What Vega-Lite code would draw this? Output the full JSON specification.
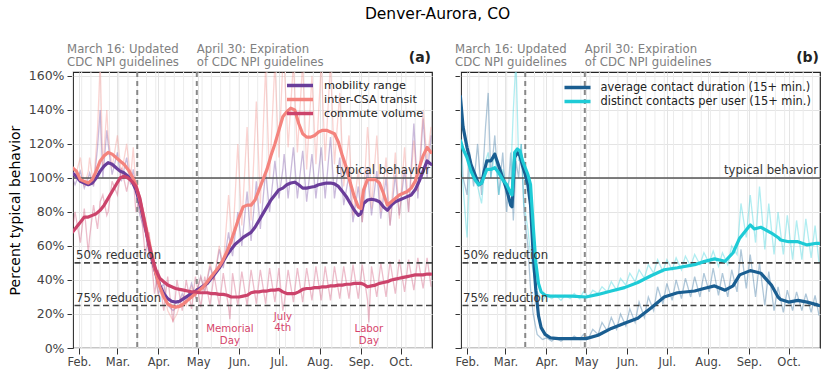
{
"$schema": "https://vega.github.io/schema/vega-lite/v6.json",
"padding": {"left": 7, "top": 7, "right": 0, "bottom": 0},
"title": {"text": "Denver-Aurora, CO", "fontSize": 15.5, "fontWeight": "normal", "color": "#000", "font": "DejaVu Sans", "anchor": "middle", "offset": 21, "dx": 23},
"bounds": "flush",
"spacing": 29,
"resolve": {"scale": {"color": "independent"}, "legend": {"color": "independent"}},
"config": {
  "font": "DejaVu Sans",
  "view": {"stroke": "#222", "strokeWidth": 1.2},
  "axis": {"labelFont": "DejaVu Sans", "labelColor": "#444", "tickColor": "#333", "tickSize": 6, "tickWidth": 1, "domain": false, "gridColor": "#e4e4e4", "gridWidth": 1, "titleFont": "DejaVu Sans", "titleFontWeight": "normal", "titleColor": "#000", "labelPadding": 3, "labelOverlap": false},
  "axisY": {"tickCount": 9, "tickMinStep": 20}
},
"datasets": {
  "weeks": [{"d":"2020-01-27"},{"d":"2020-02-03"},{"d":"2020-02-10"},{"d":"2020-02-17"},{"d":"2020-02-24"},{"d":"2020-03-02"},{"d":"2020-03-09"},{"d":"2020-03-16"},{"d":"2020-03-23"},{"d":"2020-03-30"},{"d":"2020-04-06"},{"d":"2020-04-13"},{"d":"2020-04-20"},{"d":"2020-04-27"},{"d":"2020-05-04"},{"d":"2020-05-11"},{"d":"2020-05-18"},{"d":"2020-05-25"},{"d":"2020-06-01"},{"d":"2020-06-08"},{"d":"2020-06-15"},{"d":"2020-06-22"},{"d":"2020-06-29"},{"d":"2020-07-06"},{"d":"2020-07-13"},{"d":"2020-07-20"},{"d":"2020-07-27"},{"d":"2020-08-03"},{"d":"2020-08-10"},{"d":"2020-08-17"},{"d":"2020-08-24"},{"d":"2020-08-31"},{"d":"2020-09-07"},{"d":"2020-09-14"},{"d":"2020-09-21"},{"d":"2020-09-28"},{"d":"2020-10-05"},{"d":"2020-10-12"},{"d":"2020-10-19"}],
  "aS": [
    {"d":"2020-01-27","mob":103,"tra":106,"com":68},
    {"d":"2020-01-30","mob":101,"tra":104,"com":71},
    {"d":"2020-02-02","mob":98,"tra":99,"com":74},
    {"d":"2020-02-05","mob":97,"tra":98,"com":77},
    {"d":"2020-02-08","mob":96,"tra":97,"com":77},
    {"d":"2020-02-11","mob":97,"tra":99,"com":78},
    {"d":"2020-02-14","mob":100,"tra":104,"com":79},
    {"d":"2020-02-17","mob":104,"tra":110,"com":81},
    {"d":"2020-02-20","mob":107,"tra":113,"com":84},
    {"d":"2020-02-23","mob":109,"tra":115,"com":88},
    {"d":"2020-02-26","mob":108,"tra":114,"com":92},
    {"d":"2020-02-29","mob":106,"tra":112,"com":96},
    {"d":"2020-03-03","mob":104,"tra":110,"com":100},
    {"d":"2020-03-06","mob":103,"tra":108,"com":101},
    {"d":"2020-03-09","mob":101,"tra":105,"com":100},
    {"d":"2020-03-12","mob":98,"tra":101,"com":98},
    {"d":"2020-03-15","mob":93,"tra":96,"com":95},
    {"d":"2020-03-18","mob":85,"tra":87,"com":88},
    {"d":"2020-03-21","mob":75,"tra":77,"com":76},
    {"d":"2020-03-24","mob":64,"tra":66,"com":64},
    {"d":"2020-03-27","mob":53,"tra":55,"com":54},
    {"d":"2020-03-30","mob":44,"tra":44,"com":46},
    {"d":"2020-04-02","mob":37,"tra":36,"com":41},
    {"d":"2020-04-05","mob":32,"tra":30,"com":39},
    {"d":"2020-04-08","mob":29,"tra":26,"com":37},
    {"d":"2020-04-11","mob":27.5,"tra":24.5,"com":36},
    {"d":"2020-04-14","mob":27,"tra":24,"com":35},
    {"d":"2020-04-17","mob":27.5,"tra":24.5,"com":34.5},
    {"d":"2020-04-20","mob":29,"tra":26,"com":34},
    {"d":"2020-04-23","mob":30.5,"tra":28,"com":33.5},
    {"d":"2020-04-26","mob":32,"tra":30,"com":33},
    {"d":"2020-04-29","mob":33.5,"tra":32,"com":33},
    {"d":"2020-05-02","mob":35,"tra":34,"com":32.5},
    {"d":"2020-05-05","mob":36.5,"tra":36,"com":32.5},
    {"d":"2020-05-08","mob":38,"tra":39,"com":32.5},
    {"d":"2020-05-11","mob":41,"tra":42,"com":32},
    {"d":"2020-05-14","mob":44,"tra":45,"com":32},
    {"d":"2020-05-17","mob":47,"tra":48,"com":31.5},
    {"d":"2020-05-20","mob":51,"tra":52,"com":31.5},
    {"d":"2020-05-23","mob":55,"tra":57,"com":31},
    {"d":"2020-05-26","mob":58,"tra":63,"com":30},
    {"d":"2020-05-29","mob":61,"tra":70,"com":30},
    {"d":"2020-06-01","mob":63,"tra":77,"com":30},
    {"d":"2020-06-04","mob":65,"tra":83,"com":30.5},
    {"d":"2020-06-07","mob":66.5,"tra":84,"com":31},
    {"d":"2020-06-10","mob":68,"tra":84,"com":32.5},
    {"d":"2020-06-13","mob":71,"tra":87,"com":33},
    {"d":"2020-06-16","mob":75,"tra":93,"com":33},
    {"d":"2020-06-19","mob":79,"tra":99,"com":33.5},
    {"d":"2020-06-22","mob":83,"tra":105,"com":33.5},
    {"d":"2020-06-25","mob":87,"tra":113,"com":34},
    {"d":"2020-06-28","mob":90,"tra":120,"com":34},
    {"d":"2020-07-01","mob":93,"tra":128,"com":34.5},
    {"d":"2020-07-04","mob":94,"tra":136,"com":33},
    {"d":"2020-07-07","mob":96,"tra":139,"com":32},
    {"d":"2020-07-10","mob":97,"tra":141,"com":32},
    {"d":"2020-07-13","mob":97.5,"tra":140,"com":32},
    {"d":"2020-07-16","mob":96,"tra":132,"com":33},
    {"d":"2020-07-19","mob":94,"tra":126,"com":34.5},
    {"d":"2020-07-22","mob":94,"tra":124,"com":35},
    {"d":"2020-07-25","mob":94.5,"tra":124,"com":35},
    {"d":"2020-07-28","mob":95,"tra":125,"com":35.5},
    {"d":"2020-07-31","mob":96,"tra":127,"com":35.5},
    {"d":"2020-08-03","mob":96.5,"tra":128,"com":36},
    {"d":"2020-08-06","mob":97,"tra":128,"com":36},
    {"d":"2020-08-09","mob":97,"tra":127,"com":36.5},
    {"d":"2020-08-12","mob":96.5,"tra":126,"com":36.5},
    {"d":"2020-08-15","mob":95,"tra":121,"com":37},
    {"d":"2020-08-18","mob":92,"tra":113,"com":37},
    {"d":"2020-08-21","mob":89,"tra":106,"com":37.5},
    {"d":"2020-08-24","mob":85,"tra":97,"com":37.5},
    {"d":"2020-08-27","mob":81,"tra":89,"com":38},
    {"d":"2020-08-30","mob":78,"tra":83,"com":38},
    {"d":"2020-09-01","mob":79,"tra":82,"com":38},
    {"d":"2020-09-03","mob":85,"tra":93,"com":37.5},
    {"d":"2020-09-06","mob":87,"tra":99,"com":36},
    {"d":"2020-09-09","mob":87.5,"tra":99,"com":36.5},
    {"d":"2020-09-12","mob":87,"tra":99,"com":37},
    {"d":"2020-09-15","mob":86,"tra":97,"com":38},
    {"d":"2020-09-18","mob":83,"tra":91,"com":38.5},
    {"d":"2020-09-21","mob":81,"tra":84,"com":39},
    {"d":"2020-09-24","mob":84,"tra":86,"com":40},
    {"d":"2020-09-27","mob":86,"tra":88,"com":40.5},
    {"d":"2020-09-30","mob":87,"tra":90,"com":41},
    {"d":"2020-10-03","mob":88,"tra":91,"com":41.5},
    {"d":"2020-10-06","mob":89,"tra":92,"com":42},
    {"d":"2020-10-09","mob":90,"tra":94,"com":42.5},
    {"d":"2020-10-12","mob":93,"tra":98,"com":43},
    {"d":"2020-10-15","mob":98,"tra":106,"com":43},
    {"d":"2020-10-18","mob":104,"tra":113,"com":43},
    {"d":"2020-10-21","mob":110,"tra":118,"com":43.5},
    {"d":"2020-10-24","mob":108,"tra":115,"com":43.5}
  ],
  "aR": [
    {"d":"2020-01-27","mob":100,"tra":104,"com":70},
    {"d":"2020-01-29","mob":96,"tra":100,"com":80},
    {"d":"2020-02-02","mob":104,"tra":112,"com":62},
    {"d":"2020-02-05","mob":94,"tra":95,"com":82},
    {"d":"2020-02-08","mob":100,"tra":104,"com":56},
    {"d":"2020-02-09","mob":103,"tra":112,"com":65},
    {"d":"2020-02-12","mob":95,"tra":96,"com":84},
    {"d":"2020-02-15","mob":118,"tra":128,"com":70},
    {"d":"2020-02-17","mob":140,"tra":168,"com":86},
    {"d":"2020-02-19","mob":100,"tra":106,"com":90},
    {"d":"2020-02-22","mob":128,"tra":140,"com":78},
    {"d":"2020-02-23","mob":120,"tra":125,"com":80},
    {"d":"2020-02-26","mob":102,"tra":106,"com":98},
    {"d":"2020-03-01","mob":115,"tra":125,"com":90},
    {"d":"2020-03-04","mob":98,"tra":102,"com":106},
    {"d":"2020-03-08","mob":112,"tra":120,"com":92},
    {"d":"2020-03-11","mob":96,"tra":100,"com":104},
    {"d":"2020-03-13","mob":105,"tra":118,"com":100},
    {"d":"2020-03-15","mob":92,"tra":94,"com":80},
    {"d":"2020-03-18","mob":78,"tra":80,"com":88},
    {"d":"2020-03-22","mob":68,"tra":72,"com":55},
    {"d":"2020-03-25","mob":55,"tra":55,"com":68},
    {"d":"2020-03-29","mob":45,"tra":48,"com":32},
    {"d":"2020-04-01","mob":32,"tra":30,"com":46},
    {"d":"2020-04-05","mob":38,"tra":35,"com":22},
    {"d":"2020-04-08","mob":25,"tra":22,"com":42},
    {"d":"2020-04-12","mob":22,"tra":16,"com":15},
    {"d":"2020-04-15","mob":24,"tra":20,"com":40},
    {"d":"2020-04-19","mob":32,"tra":30,"com":22},
    {"d":"2020-04-22","mob":27,"tra":25,"com":40},
    {"d":"2020-04-26","mob":38,"tra":36,"com":23},
    {"d":"2020-04-29","mob":30,"tra":30,"com":42},
    {"d":"2020-05-03","mob":42,"tra":42,"com":24},
    {"d":"2020-05-06","mob":33,"tra":33,"com":42},
    {"d":"2020-05-10","mob":48,"tra":50,"com":25},
    {"d":"2020-05-13","mob":40,"tra":40,"com":43},
    {"d":"2020-05-17","mob":58,"tra":60,"com":25},
    {"d":"2020-05-20","mob":47,"tra":48,"com":44},
    {"d":"2020-05-24","mob":68,"tra":90,"com":24},
    {"d":"2020-05-25","mob":62,"tra":80,"com":17},
    {"d":"2020-05-27","mob":54,"tra":60,"com":44},
    {"d":"2020-05-31","mob":80,"tra":120,"com":25},
    {"d":"2020-06-03","mob":60,"tra":72,"com":45},
    {"d":"2020-06-07","mob":92,"tra":130,"com":25},
    {"d":"2020-06-10","mob":63,"tra":75,"com":46},
    {"d":"2020-06-14","mob":98,"tra":145,"com":26},
    {"d":"2020-06-17","mob":70,"tra":85,"com":46},
    {"d":"2020-06-21","mob":104,"tra":165,"com":26},
    {"d":"2020-06-24","mob":80,"tra":100,"com":47},
    {"d":"2020-06-28","mob":110,"tra":168,"com":27},
    {"d":"2020-07-01","mob":88,"tra":112,"com":47},
    {"d":"2020-07-04","mob":105,"tra":168,"com":22},
    {"d":"2020-07-05","mob":114,"tra":168,"com":26},
    {"d":"2020-07-08","mob":88,"tra":118,"com":46},
    {"d":"2020-07-12","mob":118,"tra":168,"com":27},
    {"d":"2020-07-15","mob":88,"tra":115,"com":47},
    {"d":"2020-07-19","mob":116,"tra":168,"com":27},
    {"d":"2020-07-22","mob":86,"tra":105,"com":47},
    {"d":"2020-07-26","mob":114,"tra":160,"com":28},
    {"d":"2020-07-29","mob":88,"tra":108,"com":48},
    {"d":"2020-08-02","mob":118,"tra":168,"com":28},
    {"d":"2020-08-05","mob":88,"tra":110,"com":48},
    {"d":"2020-08-09","mob":124,"tra":168,"com":28},
    {"d":"2020-08-12","mob":88,"tra":108,"com":48},
    {"d":"2020-08-16","mob":112,"tra":150,"com":29},
    {"d":"2020-08-19","mob":84,"tra":95,"com":48},
    {"d":"2020-08-23","mob":102,"tra":125,"com":29},
    {"d":"2020-08-26","mob":74,"tra":78,"com":49},
    {"d":"2020-08-30","mob":95,"tra":105,"com":29},
    {"d":"2020-09-02","mob":74,"tra":74,"com":49},
    {"d":"2020-09-06","mob":106,"tra":130,"com":28},
    {"d":"2020-09-07","mob":95,"tra":120,"com":15},
    {"d":"2020-09-09","mob":78,"tra":82,"com":48},
    {"d":"2020-09-13","mob":104,"tra":125,"com":30},
    {"d":"2020-09-16","mob":76,"tra":80,"com":50},
    {"d":"2020-09-20","mob":100,"tra":112,"com":30},
    {"d":"2020-09-23","mob":72,"tra":72,"com":51},
    {"d":"2020-09-27","mob":102,"tra":115,"com":32},
    {"d":"2020-09-30","mob":78,"tra":76,"com":52},
    {"d":"2020-10-04","mob":105,"tra":118,"com":33},
    {"d":"2020-10-07","mob":80,"tra":80,"com":52},
    {"d":"2020-10-11","mob":132,"tra":122,"com":34},
    {"d":"2020-10-14","mob":88,"tra":92,"com":53},
    {"d":"2020-10-18","mob":135,"tra":140,"com":35},
    {"d":"2020-10-21","mob":100,"tra":110,"com":53},
    {"d":"2020-10-24","mob":125,"tra":130,"com":36}
  ],
  "bS": [
    {"d":"2020-01-27","dur":148,"dis":122},
    {"d":"2020-01-29","dur":130,"dis":117},
    {"d":"2020-02-01","dur":118,"dis":112},
    {"d":"2020-02-04","dur":108,"dis":104},
    {"d":"2020-02-07","dur":102,"dis":99},
    {"d":"2020-02-10","dur":96,"dis":96},
    {"d":"2020-02-12","dur":97,"dis":97},
    {"d":"2020-02-14","dur":104,"dis":101},
    {"d":"2020-02-16","dur":110,"dis":105},
    {"d":"2020-02-19","dur":110,"dis":105},
    {"d":"2020-02-22","dur":114,"dis":106},
    {"d":"2020-02-25","dur":107,"dis":103},
    {"d":"2020-02-28","dur":100,"dis":99},
    {"d":"2020-03-02","dur":93,"dis":96},
    {"d":"2020-03-05","dur":84,"dis":91},
    {"d":"2020-03-06","dur":83,"dis":90},
    {"d":"2020-03-08","dur":112,"dis":115},
    {"d":"2020-03-10","dur":115,"dis":117},
    {"d":"2020-03-12","dur":113,"dis":116},
    {"d":"2020-03-14","dur":107,"dis":110},
    {"d":"2020-03-16","dur":102,"dis":106},
    {"d":"2020-03-18","dur":96,"dis":102},
    {"d":"2020-03-20","dur":84,"dis":96},
    {"d":"2020-03-22","dur":55,"dis":72},
    {"d":"2020-03-24","dur":34,"dis":50},
    {"d":"2020-03-26","dur":19,"dis":38},
    {"d":"2020-03-28","dur":12,"dis":33},
    {"d":"2020-03-31","dur":8,"dis":31},
    {"d":"2020-04-04","dur":6,"dis":30.5},
    {"d":"2020-04-10","dur":5.5,"dis":30.5},
    {"d":"2020-04-20","dur":5.5,"dis":30.5},
    {"d":"2020-05-01","dur":5.5,"dis":30},
    {"d":"2020-05-10","dur":7.5,"dis":31.5},
    {"d":"2020-05-20","dur":11.5,"dis":33.5},
    {"d":"2020-05-30","dur":14.5,"dis":35.5},
    {"d":"2020-06-09","dur":17.5,"dis":38.5},
    {"d":"2020-06-19","dur":23.5,"dis":42.5},
    {"d":"2020-06-29","dur":30,"dis":46},
    {"d":"2020-07-09","dur":32.5,"dis":47.2},
    {"d":"2020-07-22","dur":33.5,"dis":49},
    {"d":"2020-07-29","dur":35,"dis":50.8},
    {"d":"2020-08-06","dur":36.5,"dis":52.4},
    {"d":"2020-08-14","dur":34,"dis":51},
    {"d":"2020-08-20","dur":36.5,"dis":56},
    {"d":"2020-08-25","dur":43,"dis":64.6},
    {"d":"2020-09-02","dur":45.5,"dis":72.4},
    {"d":"2020-09-05","dur":45,"dis":70},
    {"d":"2020-09-10","dur":44,"dis":71},
    {"d":"2020-09-18","dur":37,"dis":67.6},
    {"d":"2020-09-23","dur":30,"dis":65},
    {"d":"2020-09-25","dur":28.5,"dis":63.5},
    {"d":"2020-10-01","dur":27,"dis":62.5},
    {"d":"2020-10-08","dur":28,"dis":62.5},
    {"d":"2020-10-15","dur":27,"dis":60.6},
    {"d":"2020-10-22","dur":25.5,"dis":61.6},
    {"d":"2020-10-24","dur":25,"dis":61.5}
  ],
  "bR": [
    {"d":"2020-01-27","dur":140,"dis":115},
    {"d":"2020-01-29","dur":100,"dis":95},
    {"d":"2020-02-01","dur":90,"dis":65},
    {"d":"2020-02-03","dur":115,"dis":105},
    {"d":"2020-02-06","dur":95,"dis":100},
    {"d":"2020-02-09","dur":120,"dis":95},
    {"d":"2020-02-12","dur":90,"dis":85},
    {"d":"2020-02-15","dur":130,"dis":110},
    {"d":"2020-02-17","dur":150,"dis":115},
    {"d":"2020-02-19","dur":100,"dis":100},
    {"d":"2020-02-22","dur":125,"dis":115},
    {"d":"2020-02-25","dur":90,"dis":90},
    {"d":"2020-02-28","dur":115,"dis":105},
    {"d":"2020-03-02","dur":80,"dis":95},
    {"d":"2020-03-05","dur":115,"dis":100},
    {"d":"2020-03-07","dur":75,"dis":140},
    {"d":"2020-03-09","dur":110,"dis":170},
    {"d":"2020-03-11","dur":100,"dis":110},
    {"d":"2020-03-13","dur":120,"dis":120},
    {"d":"2020-03-15","dur":80,"dis":85},
    {"d":"2020-03-18","dur":60,"dis":70},
    {"d":"2020-03-20","dur":35,"dis":55},
    {"d":"2020-03-22","dur":20,"dis":45},
    {"d":"2020-03-25","dur":8,"dis":33},
    {"d":"2020-03-29","dur":5,"dis":28},
    {"d":"2020-04-01","dur":6,"dis":31},
    {"d":"2020-04-05","dur":4,"dis":29},
    {"d":"2020-04-08","dur":6,"dis":31},
    {"d":"2020-04-12","dur":4,"dis":28},
    {"d":"2020-04-15","dur":6,"dis":31},
    {"d":"2020-04-19","dur":5,"dis":29},
    {"d":"2020-04-22","dur":7,"dis":32},
    {"d":"2020-04-26","dur":5,"dis":29},
    {"d":"2020-04-29","dur":8,"dis":33},
    {"d":"2020-05-03","dur":6,"dis":30},
    {"d":"2020-05-06","dur":11,"dis":34},
    {"d":"2020-05-10","dur":8,"dis":32},
    {"d":"2020-05-13","dur":15,"dis":36},
    {"d":"2020-05-17","dur":10,"dis":33},
    {"d":"2020-05-20","dur":18,"dis":39},
    {"d":"2020-05-24","dur":11,"dis":34},
    {"d":"2020-05-27","dur":20,"dis":41},
    {"d":"2020-05-31","dur":13,"dis":37},
    {"d":"2020-06-03","dur":23,"dis":44},
    {"d":"2020-06-07","dur":15,"dis":39},
    {"d":"2020-06-10","dur":27,"dis":46},
    {"d":"2020-06-14","dur":18,"dis":41},
    {"d":"2020-06-17","dur":30,"dis":49},
    {"d":"2020-06-21","dur":22,"dis":44},
    {"d":"2020-06-24","dur":36,"dis":52},
    {"d":"2020-06-28","dur":26,"dis":45},
    {"d":"2020-07-01","dur":38,"dis":52},
    {"d":"2020-07-05","dur":28,"dis":46},
    {"d":"2020-07-08","dur":40,"dis":53},
    {"d":"2020-07-12","dur":29,"dis":46},
    {"d":"2020-07-15","dur":41,"dis":54},
    {"d":"2020-07-19","dur":30,"dis":48},
    {"d":"2020-07-22","dur":42,"dis":55},
    {"d":"2020-07-26","dur":30,"dis":49},
    {"d":"2020-07-29","dur":44,"dis":56},
    {"d":"2020-08-02","dur":33,"dis":50},
    {"d":"2020-08-05","dur":47,"dis":57},
    {"d":"2020-08-09","dur":31,"dis":48},
    {"d":"2020-08-12","dur":44,"dis":56},
    {"d":"2020-08-16","dur":30,"dis":49},
    {"d":"2020-08-19","dur":46,"dis":60},
    {"d":"2020-08-23","dur":33,"dis":55},
    {"d":"2020-08-26","dur":58,"dis":85},
    {"d":"2020-08-30","dur":35,"dis":65},
    {"d":"2020-09-02","dur":55,"dis":90},
    {"d":"2020-09-06","dur":30,"dis":62},
    {"d":"2020-09-09","dur":50,"dis":95},
    {"d":"2020-09-13","dur":25,"dis":58},
    {"d":"2020-09-16","dur":45,"dis":85},
    {"d":"2020-09-20","dur":22,"dis":55},
    {"d":"2020-09-23","dur":36,"dis":80},
    {"d":"2020-09-27","dur":21,"dis":55},
    {"d":"2020-09-30","dur":34,"dis":78},
    {"d":"2020-10-04","dur":22,"dis":52},
    {"d":"2020-10-07","dur":33,"dis":75},
    {"d":"2020-10-11","dur":22,"dis":52},
    {"d":"2020-10-14","dur":32,"dis":76},
    {"d":"2020-10-18","dur":21,"dis":53},
    {"d":"2020-10-21","dur":31,"dis":72},
    {"d":"2020-10-24","dur":19,"dis":50}
  ]
},
"hconcat": [
  {
    "width": 359, "height": 276,
    "layer": [
      {"data": {"name": "weeks"}, "mark": {"type": "rule", "color": "#ececec", "strokeWidth": 1},
       "encoding": {"x": {"field": "d", "type": "temporal", "title": null,
         "scale": {"type": "utc", "domain": [{"year":2020,"month":1,"date":27,"hours":11,"utc":true},{"year":2020,"month":10,"date":24,"hours":17,"utc":true}]},
         "axis": {"values": [{"year":2020,"month":2,"date":1,"utc":true},{"year":2020,"month":3,"date":1,"utc":true},{"year":2020,"month":4,"date":1,"utc":true},{"year":2020,"month":5,"date":1,"utc":true},{"year":2020,"month":6,"date":1,"utc":true},{"year":2020,"month":7,"date":1,"utc":true},{"year":2020,"month":8,"date":1,"utc":true},{"year":2020,"month":9,"date":1,"utc":true},{"year":2020,"month":10,"date":1,"utc":true}],
           "format": "%b", "labelExpr": "datum.label == 'May' ? 'May' : datum.label + '.'", "grid": true, "labelFontSize": 11.5, "labelFlush": false, "labelPadding": 2, "labelOverlap": false}}}},
      {"data": {"name": "aR"}, "transform": [{"fold": ["mob","tra","com"], "as": ["s","v"]}],
       "mark": {"type": "line", "strokeWidth": 1.3, "opacity": 0.35, "clip": true},
       "encoding": {"x": {"field": "d", "type": "temporal"},
         "y": {"field": "v", "type": "quantitative", "title": "Percent typical behavior",
           "scale": {"domain": [0, 162.3], "nice": false, "zero": false},
           "axis": {"values": [0,20,40,60,80,100,120,140,160], "tickCount": 9, "labelExpr": "datum.value + '%'", "grid": true, "labelFontSize": 12.5, "titleFontSize": 14, "titlePadding": 6, "labelOverlap": false, "labelSeparation": 0, "labelBound": false}},
         "color": {"field": "s", "type": "nominal", "scale": {"domain": ["mob","tra","com"], "range": ["#6a3d9a","#f4837d","#cc436b"]},
           "legend": {"orient": "none", "legendX": 220, "legendY": 6.5, "title": null, "labelFontSize": 11.3, "labelColor": "#222", "symbolType": "M-2.6,0H2.6", "symbolSize": 100, "symbolStrokeWidth": 3.5, "symbolOpacity": 1, "rowPadding": 0, "labelOffset": 17, "padding": 0, "labelLimit": 300,
             "labelExpr": "datum.label == 'mob' ? 'mobility range' : datum.label == 'tra' ? 'inter-CSA transit' : 'commute volume'"}}}},
      {"data": {"values": [{"v": 100}]}, "mark": {"type": "rule", "color": "#555", "strokeWidth": 1.4}, "encoding": {"y": {"field": "v", "type": "quantitative"}}},
      {"data": {"values": [{"v": 50},{"v": 25}]}, "mark": {"type": "rule", "color": "#444", "strokeWidth": 1.7, "strokeDash": [6, 3.5]}, "encoding": {"y": {"field": "v", "type": "quantitative"}}},
      {"data": {"values": [{"d": "2020-03-16"},{"d": "2020-04-30"}]}, "mark": {"type": "rule", "color": "#888", "strokeWidth": 2, "strokeDash": [5, 4]}, "encoding": {"x": {"field": "d", "type": "temporal"}}},
      {"data": {"name": "aS"}, "transform": [{"fold": ["mob","tra","com"], "as": ["s","v"]}],
       "mark": {"type": "line", "strokeWidth": 3.2, "strokeJoin": "round", "strokeCap": "round", "clip": true},
       "encoding": {"x": {"field": "d", "type": "temporal"}, "y": {"field": "v", "type": "quantitative"}, "color": {"field": "s", "type": "nominal"}}},
      {"data": {"values": [{"d":"2020-01-23","v":175.7,"t":"March 16: Updated"},{"d":"2020-01-23","v":168,"t":"CDC NPI guidelines"},{"d":"2020-04-30","v":175.7,"t":"April 30: Expiration"},{"d":"2020-04-30","v":168,"t":"of CDC NPI guidelines"}]},
       "mark": {"type": "text", "align": "left", "baseline": "middle", "fontSize": 11.7, "color": "#808080"},
       "encoding": {"x": {"field": "d", "type": "temporal"}, "y": {"field": "v", "type": "quantitative"}, "text": {"field": "t"}}},
      {"data": {"values": [{"d":"2020-10-24T17:00:00Z","v":170.6,"t":"(a)"}]},
       "mark": {"type": "text", "align": "right", "baseline": "middle", "fontSize": 14, "fontWeight": "bold", "color": "#222", "dx": -1},
       "encoding": {"x": {"field": "d", "type": "temporal"}, "y": {"field": "v", "type": "quantitative"}, "text": {"field": "t"}}},
      {"data": {"values": [{"d":"2020-10-24T17:00:00Z","v":104.7,"t":"typical behavior"}]},
       "mark": {"type": "text", "align": "right", "baseline": "middle", "fontSize": 11.7, "color": "#333", "dx": -2},
       "encoding": {"x": {"field": "d", "type": "temporal"}, "y": {"field": "v", "type": "quantitative"}, "text": {"field": "t"}}},
      {"data": {"values": [{"d":"2020-01-27T11:00:00Z","v":54.7,"t":"50% reduction"},{"d":"2020-01-27T11:00:00Z","v":29.6,"t":"75% reduction"}]},
       "mark": {"type": "text", "align": "left", "baseline": "middle", "fontSize": 11.7, "color": "#333", "dx": 3},
       "encoding": {"x": {"field": "d", "type": "temporal"}, "y": {"field": "v", "type": "quantitative"}, "text": {"field": "t"}}},
      {"data": {"values": [{"d":"2020-05-25","v":11,"t":"Memorial"},{"d":"2020-05-25","v":4.3,"t":"Day"},{"d":"2020-07-04","v":18,"t":"July"},{"d":"2020-07-04","v":11.6,"t":"4th"},{"d":"2020-09-07","v":11,"t":"Labor"},{"d":"2020-09-07","v":4.3,"t":"Day"}]},
       "mark": {"type": "text", "align": "center", "baseline": "middle", "fontSize": 10.2, "color": "#d6456b"},
       "encoding": {"x": {"field": "d", "type": "temporal"}, "y": {"field": "v", "type": "quantitative"}, "text": {"field": "t"}}}
    ]
  },
  {
    "width": 359, "height": 276,
    "layer": [
      {"data": {"name": "weeks"}, "mark": {"type": "rule", "color": "#ececec", "strokeWidth": 1},
       "encoding": {"x": {"field": "d", "type": "temporal", "title": null,
         "scale": {"type": "utc", "domain": [{"year":2020,"month":1,"date":27,"hours":11,"utc":true},{"year":2020,"month":10,"date":24,"hours":17,"utc":true}]},
         "axis": {"values": [{"year":2020,"month":2,"date":1,"utc":true},{"year":2020,"month":3,"date":1,"utc":true},{"year":2020,"month":4,"date":1,"utc":true},{"year":2020,"month":5,"date":1,"utc":true},{"year":2020,"month":6,"date":1,"utc":true},{"year":2020,"month":7,"date":1,"utc":true},{"year":2020,"month":8,"date":1,"utc":true},{"year":2020,"month":9,"date":1,"utc":true},{"year":2020,"month":10,"date":1,"utc":true}],
           "format": "%b", "labelExpr": "datum.label == 'May' ? 'May' : datum.label + '.'", "grid": true, "labelFontSize": 11.5, "labelFlush": false, "labelPadding": 2, "labelOverlap": false}}}},
      {"data": {"name": "bR"}, "transform": [{"fold": ["dur","dis"], "as": ["s","v"]}],
       "mark": {"type": "line", "strokeWidth": 1.3, "opacity": 0.35, "clip": true},
       "encoding": {"x": {"field": "d", "type": "temporal"},
         "y": {"field": "v", "type": "quantitative", "title": null,
           "scale": {"domain": [0, 162.3], "nice": false, "zero": false},
           "axis": {"values": [0,20,40,60,80,100,120,140,160], "tickCount": 9, "labels": false, "grid": true}},
         "color": {"field": "s", "type": "nominal", "scale": {"domain": ["dur","dis"], "range": ["#1a5e91","#1ecbd6"]},
           "legend": {"orient": "none", "legendX": 109.5, "legendY": 8.5, "title": null, "labelFontSize": 11.4, "labelColor": "#222", "symbolType": "M-2.6,0H2.6", "symbolSize": 100, "symbolStrokeWidth": 3.5, "symbolOpacity": 1, "rowPadding": 0, "labelOffset": 16, "padding": 0, "labelLimit": 300,
             "labelExpr": "datum.label == 'dur' ? 'average contact duration (15+ min.)' : 'distinct contacts per user (15+ min.)'"}}}},
      {"data": {"values": [{"v": 100}]}, "mark": {"type": "rule", "color": "#555", "strokeWidth": 1.4}, "encoding": {"y": {"field": "v", "type": "quantitative"}}},
      {"data": {"values": [{"v": 50},{"v": 25}]}, "mark": {"type": "rule", "color": "#444", "strokeWidth": 1.7, "strokeDash": [6, 3.5]}, "encoding": {"y": {"field": "v", "type": "quantitative"}}},
      {"data": {"values": [{"d": "2020-03-16"},{"d": "2020-04-30"}]}, "mark": {"type": "rule", "color": "#888", "strokeWidth": 2, "strokeDash": [5, 4]}, "encoding": {"x": {"field": "d", "type": "temporal"}}},
      {"data": {"name": "bS"}, "transform": [{"fold": ["dur","dis"], "as": ["s","v"]}],
       "mark": {"type": "line", "strokeWidth": 3.2, "strokeJoin": "round", "strokeCap": "round", "clip": true},
       "encoding": {"x": {"field": "d", "type": "temporal"}, "y": {"field": "v", "type": "quantitative"}, "color": {"field": "s", "type": "nominal"}}},
      {"data": {"values": [{"d":"2020-01-23","v":175.7,"t":"March 16: Updated"},{"d":"2020-01-23","v":168,"t":"CDC NPI guidelines"},{"d":"2020-04-30","v":175.7,"t":"April 30: Expiration"},{"d":"2020-04-30","v":168,"t":"of CDC NPI guidelines"}]},
       "mark": {"type": "text", "align": "left", "baseline": "middle", "fontSize": 11.7, "color": "#808080"},
       "encoding": {"x": {"field": "d", "type": "temporal"}, "y": {"field": "v", "type": "quantitative"}, "text": {"field": "t"}}},
      {"data": {"values": [{"d":"2020-10-24T17:00:00Z","v":170.6,"t":"(b)"}]},
       "mark": {"type": "text", "align": "right", "baseline": "middle", "fontSize": 14, "fontWeight": "bold", "color": "#222", "dx": -1},
       "encoding": {"x": {"field": "d", "type": "temporal"}, "y": {"field": "v", "type": "quantitative"}, "text": {"field": "t"}}},
      {"data": {"values": [{"d":"2020-10-24T17:00:00Z","v":104.7,"t":"typical behavior"}]},
       "mark": {"type": "text", "align": "right", "baseline": "middle", "fontSize": 11.7, "color": "#333", "dx": -2},
       "encoding": {"x": {"field": "d", "type": "temporal"}, "y": {"field": "v", "type": "quantitative"}, "text": {"field": "t"}}},
      {"data": {"values": [{"d":"2020-01-27T11:00:00Z","v":54.7,"t":"50% reduction"},{"d":"2020-01-27T11:00:00Z","v":29.6,"t":"75% reduction"}]},
       "mark": {"type": "text", "align": "left", "baseline": "middle", "fontSize": 11.7, "color": "#333", "dx": 2},
       "encoding": {"x": {"field": "d", "type": "temporal"}, "y": {"field": "v", "type": "quantitative"}, "text": {"field": "t"}}}
    ]
  }
]
}
